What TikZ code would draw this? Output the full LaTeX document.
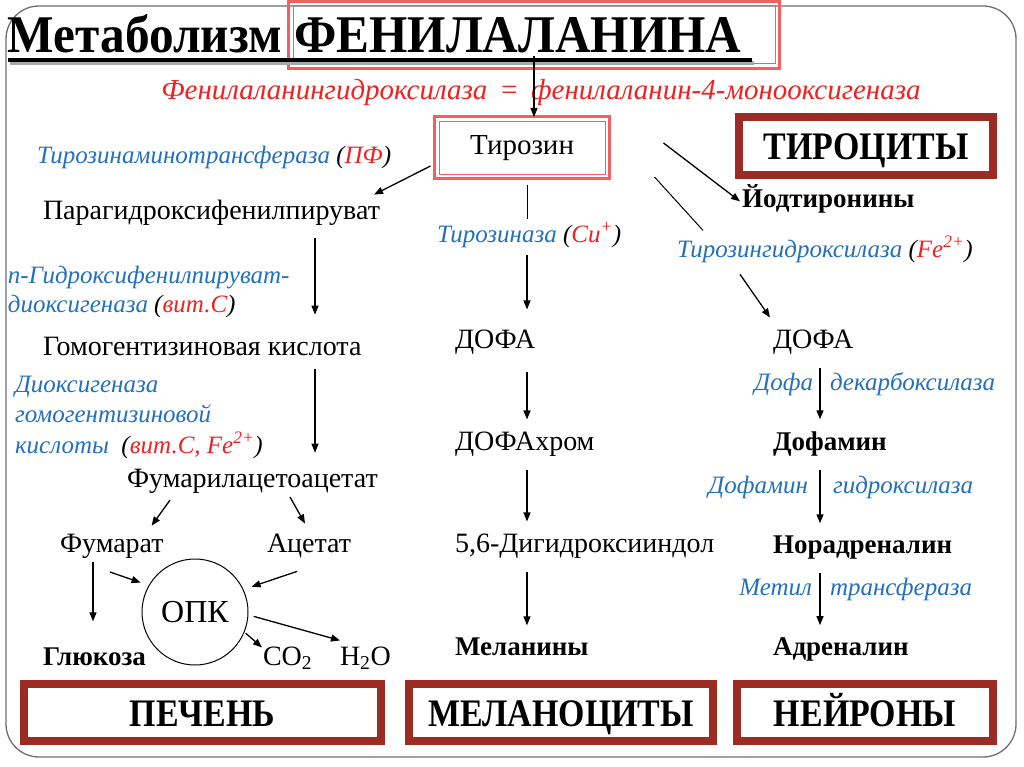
\documentclass[tikz,border=0pt]{standalone}
\usepackage{fontspec}
\setmainfont{Liberation Serif}[ItalicFont={Liberation Serif Italic},BoldFont={Liberation Serif Bold},BoldItalicFont={Liberation Serif Bold Italic}]
\usetikzlibrary{arrows.meta,calc}
\definecolor{encblue}{HTML}{2470BC}
\definecolor{encred}{HTML}{EE2222}
\definecolor{boxred}{HTML}{9C2B23}
\definecolor{pinkred}{HTML}{F26060}
\definecolor{framegray}{HTML}{6E6E6E}
\definecolor{shadowgray}{HTML}{A8A8A8}
\newcommand\cnd[1]{\scalebox{0.87}[1]{#1}}
\newcommand\blk[1]{{\color{black}#1}}
\newcommand\rd[1]{{\color{encred}#1}}
\begin{document}
\begin{tikzpicture}[x=1pt,y=-1pt,
 every node/.style={inner sep=0pt,outer sep=0pt},
 txt/.style={anchor=base west,font=\fontsize{28}{30}\selectfont},
 btxt/.style={anchor=base west,font=\fontsize{27}{30}\selectfont\bfseries},
 enz/.style={anchor=base west,text=encblue,font=\fontsize{25}{27}\selectfont\itshape},
 arr/.style={draw=black,line width=1.3pt,-{Triangle[length=9pt,width=7pt]}},
 ln/.style={draw=black,line width=1pt},
 organ/.style={draw=boxred,line width=8pt,fill=white,text height=27pt,text depth=0pt,font=\fontsize{39}{42}\selectfont\bfseries},
 pinkbox/.style={draw=pinkred,line width=3pt},
]
\useasboundingbox (0,0) rectangle (1024,767);
\fill[white] (0,0) rectangle (1024,767);
\draw[framegray,line width=1.3pt,rounded corners=33pt] (6,6) rectangle (1016,757);

% title box
\node[pinkbox,minimum width=491pt,minimum height=67pt] (titlebox) at (534,35) {};
\draw[pinkred,line width=1pt] ($(titlebox.north west)+(4.5,4.5)$) rectangle ($(titlebox.south east)+(-4.5,-4.5)$);
% title
\fill[shadowgray] (10,61) rectangle (754,65);
\fill[black] (8,58) rectangle (752,62.5);
\node[anchor=base west,font=\fontsize{53}{58}\selectfont\bfseries] (title) at (8,53) {\scalebox{0.93}[1]{Метаболизм ФЕНИЛАЛАНИНА}};

% enzyme
\node[anchor=base,text=encred,font=\fontsize{29}{31}\selectfont\itshape] (pah) at (541,100) {Фенилаланингидроксилаза \,=\, фенилаланин-4-монооксигеназа};

% tyrosine
\node[pinkbox,fill=white,minimum width=175pt,minimum height=62pt,font=\fontsize{29}{30}\selectfont] (tyr) at (522,148) {Тирозин};
\draw[pinkred,line width=1pt] ($(tyr.north west)+(4.5,4.5)$) rectangle ($(tyr.south east)+(-4.5,-4.5)$);

\node[organ,minimum width=254pt,minimum height=58pt] (thyro) at (866,146.5) {\cnd{ТИРОЦИТЫ}};

% left column
\node[enz] (tat) at (37,164) {Тирозинаминотрансфераза \blk{(}\rd{ПФ}\blk{)}};
\node[txt] (para) at (43,220) {Парагидроксифенилпируват};
\node[enz] (hppd1) at (8,283) {п-Гидроксифенилпируват-};
\node[enz] (hppd2) at (8,312) {диоксигеназа \blk{(}\rd{вит.С}\blk{)}};
\node[txt] (homo) at (43,355) {Гомогентизиновая кислота};
\node[enz] (hgd1) at (15,392) {Диоксигеназа};
\node[enz] (hgd2) at (15,422) {гомогентизиновой};
\node[enz] (hgd3) at (15,453) {кислоты\ \ \blk{(}\rd{вит.С, Fe\textsuperscript{2+}}\blk{)}};
\node[txt] (fum) at (127,487) {Фумарилацетоацетат};
\node[txt] (fumarate) at (60,552) {Фумарат};
\node[txt] (acetate) at (267,552) {Ацетат};
\node[circle,draw,line width=1pt,minimum size=106pt,font=\fontsize{32}{34}\selectfont] (tca) at (195,612) {ОПК};
\node[btxt] (glc) at (43,665) {Глюкоза};
\node[txt] (co2) at (263,665) {CO\textsubscript{2}};
\node[txt] (h2o) at (340,665) {H\textsubscript{2}O};

% middle column
\node[enz] (tyrase) at (437,242) {Тирозиназа \blk{(}\rd{Cu\textsuperscript{+}}\blk{)}};
\node[txt] (dofa1) at (455,348) {ДОФА};
\node[txt] (dchrom) at (455,450) {ДОФАхром};
\node[txt] (dhi) at (455,552) {5,6-Дигидроксииндол};
\node[btxt] (mel) at (455,655) {Меланины};

% right column
\node[btxt] (iod) at (742,208) {Йодтиронины};
\node[enz] (th) at (677,257) {Тирозингидроксилаза \blk{(}\rd{Fe\textsuperscript{2+}}\blk{)}};
\node[txt] (dofa2) at (773,348) {ДОФА};
\node[enz,anchor=base east] (ddc1) at (813,390) {Дофа};
\node[enz] (ddc2) at (830,390) {декарбоксилаза};
\node[btxt] (dopamine) at (773,450) {Дофамин};
\node[enz,anchor=base east] (dbh1) at (808,493) {Дофамин};
\node[enz] (dbh2) at (833,493) {гидроксилаза};
\node[btxt] (nor) at (773,553) {Норадреналин};
\node[enz,anchor=base east] (pnmt1) at (812,595) {Метил};
\node[enz] (pnmt2) at (830,595) {трансфераза};
\node[btxt] (adr) at (773,655) {Адреналин};

% organ boxes
\node[organ,minimum width=357pt,minimum height=57pt] (liver) at (202.5,712.5) {\cnd{ПЕЧЕНЬ}};
\node[organ,minimum width=304pt,minimum height=57pt] (melano) at (561,712.5) {\cnd{МЕЛАНОЦИТЫ}};
\node[organ,minimum width=256pt,minimum height=57pt] (neuro) at (865,712.5) {\cnd{НЕЙРОНЫ}};

% connectors
\coordinate (lx) at (315,0);
\coordinate (mx) at (527,0);
\coordinate (rx) at (820,0);
\draw[arr] ([yshift=12pt]titlebox.south) -- (titlebox.south |- tyr.north);
\draw[arr] ($(tyr.west)+(-4,18)$) -- ($(para.north east)+(-6,-6)$);
\draw[arr] ($(para.south -| lx)+(0,12)$) -- ($(homo.north -| lx)+(0,-22)$);
\draw[arr] ($(homo.south -| lx)+(0,14)$) -- ($(fum.north -| lx)+(0,-16)$);
\draw[arr] ($(fum.south west)+(43,7)$) -- ($(fumarate.north east)+(-12,-8)$);
\draw[arr] ($(fum.south west)+(163,4)$) -- ($(acetate.north west)+(38,-10)$);
\draw[arr] ($(fumarate.south west)+(33,4)$) -- ($(glc.north west)+(50,-26)$);
\draw[arr,shorten >=9pt] ($(fumarate.south west)+(50,14)$) -- (tca.150);
\draw[arr,shorten >=9pt] ($(acetate.south west)+(30,14)$) -- (tca.25);
\draw[arr,shorten <=2pt] (tca.-22) -- ($(co2.north west)+(-1,1)$);
\draw[arr,shorten <=6pt] (tca.-3) -- ($(h2o.north west)+(0,-6)$);
% middle
\draw[ln] ($(tyr.south -| mx)+(0,6)$) -- ($(tyrase.north -| mx)+(0,-4)$);
\draw[arr] ($(tyrase.south -| mx)+(0,8)$) -- ($(dofa1.north -| mx)+(0,-20)$);
\draw[arr] ($(dofa1.south -| mx)+(0,18)$) -- ($(dchrom.north -| mx)+(0,-12)$);
\draw[arr] ($(dchrom.south -| mx)+(0,14)$) -- ($(dhi.north -| mx)+(0,-12)$);
\draw[arr] ($(dhi.south -| mx)+(0,14)$) -- ($(mel.north -| mx)+(0,-12)$);
% right
\draw[arr] ($(tyr.east)+(54,-5)$) -- ($(iod.west)+(-2,2)$);
\draw[ln] ($(tyr.south east)+(45,-2)$) -- ($(th.north west)+(26,-6)$);
\draw[arr] ($(th.south west)+(63,12)$) -- ($(dofa2.north west)+(-3,-12)$);
\draw[arr] ($(dofa2.south -| rx)+(0,14)$) -- ($(dopamine.north -| rx)+(0,-12)$);
\draw[arr] ($(dopamine.south -| rx)+(0,14)$) -- ($(nor.north -| rx)+(0,-12)$);
\draw[arr] ($(nor.south -| rx)+(0,14)$) -- ($(adr.north -| rx)+(0,-12)$);
\end{tikzpicture}
\end{document}
